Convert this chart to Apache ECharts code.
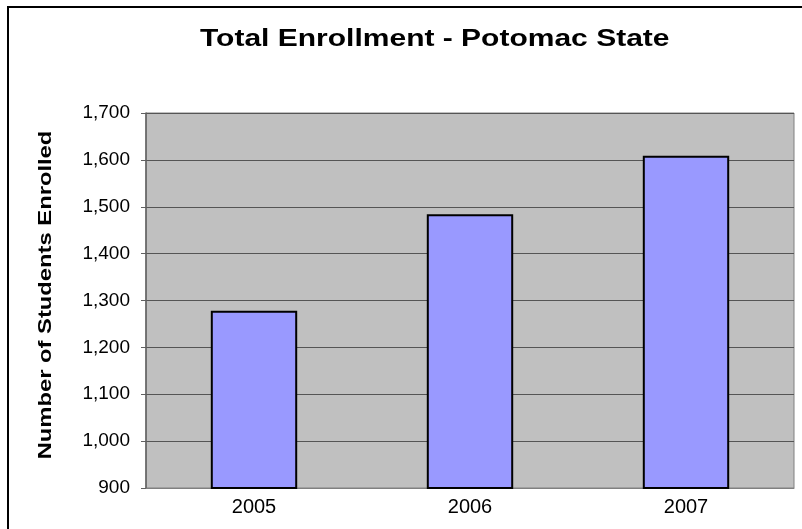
<!DOCTYPE html>
<html><head><meta charset="utf-8">
<script src="https://cdn.jsdelivr.net/npm/echarts@6/dist/echarts.min.js"></script>
<style>html,body{margin:0;padding:0;background:#fff}#c{width:802px;height:529px}</style>
</head><body><div id="c"></div>
<script>
const categories = ['2005', '2006', '2007'];
const enrollment = [1278, 1484, 1609];
const yTicks = { min: 900, max: 1700, interval: 100 };
const titleText = 'Total Enrollment - Potomac State';
const yAxisName = 'Number of Students Enrolled';

const chart = echarts.init(document.getElementById('c'));
chart.setOption({
  animation: false,
  backgroundColor: '#ffffff',
  graphic: [
    {
      type: 'rect', shape: { x: 8, y: 7, width: 830, height: 560 },
      style: { fill: 'none', stroke: '#000', lineWidth: 2 }, silent: true, z: 100
    },
    {
      type: 'text', x: 200, y: 27, scaleX: 1.25, originX: 0, originY: 0,
      style: { text: titleText, font: 'bold 24px "Liberation Sans", Arial', fill: '#000', textAlign: 'left' },
      silent: true
    },
    {
      type: 'text', x: 37, y: 295, rotation: Math.PI / 2, scaleX: 1.32,
      style: { text: yAxisName, font: 'bold 18px "Liberation Sans", Arial', fill: '#000', textAlign: 'center' },
      silent: true
    }
  ],
  grid: { left: 146, right: 8, top: 113, bottom: 41, show: true, backgroundColor: '#C0C0C0', borderColor: '#808080', borderWidth: 1 },
  xAxis: {
    type: 'category', data: categories,
    axisLine: { show: true, lineStyle: { color: '#808080', width: 1 } },
    axisTick: { show: false },
    axisLabel: { fontFamily: 'Liberation Sans, Arial', fontSize: 20, color: '#000', margin: 9 }
  },
  yAxis: {
    type: 'value', min: yTicks.min, max: yTicks.max, interval: yTicks.interval,
    axisLine: { show: true, lineStyle: { color: '#606060', width: 1.5 } },
    axisTick: { show: true, inside: false, length: 5, lineStyle: { color: '#606060' } },
    axisLabel: {
      fontFamily: 'Liberation Sans, Arial', fontSize: 19, color: '#000', margin: 16,
      formatter: v => v.toLocaleString('en-US')
    },
    splitLine: { show: true, lineStyle: { color: '#555555', width: 1 } }
  },
  series: [{
    type: 'bar', data: enrollment, barCategoryGap: '60%',
    itemStyle: { color: '#9999FF', borderColor: '#000', borderWidth: 2 }
  }]
});
</script></body></html>
